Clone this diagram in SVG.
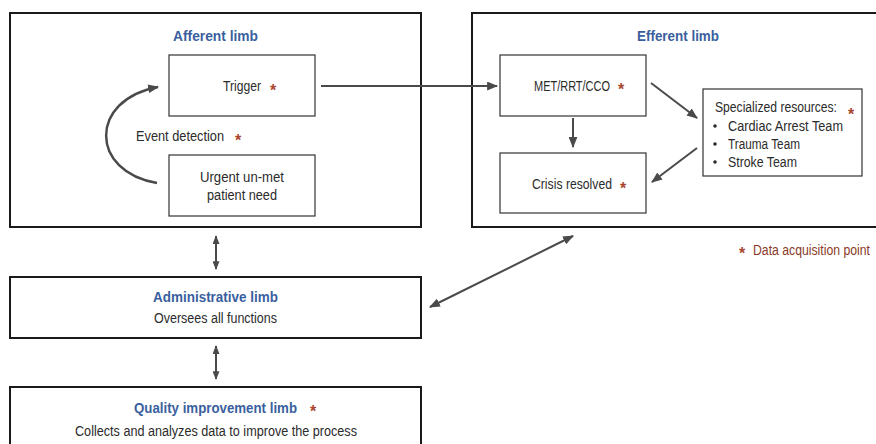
<svg xmlns="http://www.w3.org/2000/svg" width="876" height="444" viewBox="0 0 876 444">
<style>
  .limb { fill: #ffffff; stroke: #1a1a1a; stroke-width: 2; }
  .box { fill: #ffffff; stroke: #333333; stroke-width: 1.2; }
  .title { font-family: "Liberation Sans", Arial, sans-serif; font-weight: bold; font-size: 15px; fill: #3a5f9e; }
  .t { font-family: "Liberation Sans", Arial, sans-serif; font-size: 14px; fill: #2b2b2b; }
  .ast { font-family: "Liberation Sans", Arial, sans-serif; font-weight: bold; font-size: 16px; fill: #a8472e; }
  .conn { fill: none; stroke: #4a4a4a; stroke-width: 2; }
</style>
<defs>
  <marker id="ah" viewBox="0 0 10 8" refX="9" refY="4" markerWidth="11" markerHeight="9" markerUnits="userSpaceOnUse" orient="auto-start-reverse">
    <path d="M0,0 L10,4 L0,8 z" fill="#4a4a4a"/>
  </marker>
  <marker id="ahs" viewBox="0 0 10 8" refX="9" refY="4" markerWidth="9" markerHeight="7" markerUnits="userSpaceOnUse" orient="auto-start-reverse">
    <path d="M0,0 L10,4 L0,8 z" fill="#4a4a4a"/>
  </marker>
</defs>

<g id="afferent">
  <rect class="limb" x="10" y="13" width="411" height="214"/>
  <text class="title" x="173" y="41" textLength="85" lengthAdjust="spacingAndGlyphs">Afferent limb</text>
</g>
<g id="trigger">
  <rect class="box" x="169" y="55" width="146" height="61"/>
  <text class="t" x="223" y="91"><tspan textLength="38" lengthAdjust="spacingAndGlyphs">Trigger</tspan><tspan class="ast" x="270" y="96">*</tspan></text>
</g>
<g id="event-detection">
  <text class="t" x="136" y="141"><tspan textLength="88" lengthAdjust="spacingAndGlyphs">Event detection</tspan><tspan class="ast" x="235" y="146">*</tspan></text>
</g>
<g id="urgent">
  <rect class="box" x="169" y="155" width="146" height="61"/>
  <text class="t" x="200" y="182" textLength="84" lengthAdjust="spacingAndGlyphs">Urgent un-met</text>
  <text class="t" x="207" y="200" textLength="70" lengthAdjust="spacingAndGlyphs">patient need</text>
</g>

<g id="efferent">
  <rect class="limb" x="472" y="13" width="410" height="214"/>
  <text class="title" x="637" y="41" textLength="82" lengthAdjust="spacingAndGlyphs">Efferent limb</text>
</g>
<g id="met">
  <rect class="box" x="500" y="55" width="146" height="61"/>
  <text class="t" x="534" y="91"><tspan textLength="76" lengthAdjust="spacingAndGlyphs">MET/RRT/CCO</tspan><tspan class="ast" x="618" y="95">*</tspan></text>
</g>
<g id="crisis">
  <rect class="box" x="500" y="153" width="146" height="60"/>
  <text class="t" x="532" y="189"><tspan textLength="80" lengthAdjust="spacingAndGlyphs">Crisis resolved</tspan><tspan class="ast" x="620" y="194">*</tspan></text>
</g>
<g id="specialized">
  <rect class="box" x="703" y="89" width="159" height="87"/>
  <text class="t" x="715" y="112"><tspan textLength="122" lengthAdjust="spacingAndGlyphs">Specialized resources:</tspan><tspan class="ast" x="848" y="120">*</tspan></text>
  <circle cx="715" cy="126" r="1.8" fill="#2b2b2b"/>
  <text class="t" x="728" y="131" textLength="115" lengthAdjust="spacingAndGlyphs">Cardiac Arrest Team</text>
  <circle cx="715" cy="144" r="1.8" fill="#2b2b2b"/>
  <text class="t" x="728" y="149" textLength="72" lengthAdjust="spacingAndGlyphs">Trauma Team</text>
  <circle cx="715" cy="162" r="1.8" fill="#2b2b2b"/>
  <text class="t" x="728" y="167" textLength="69" lengthAdjust="spacingAndGlyphs">Stroke Team</text>
</g>

<g id="legend">
  <text class="ast" x="739" y="259">*<tspan class="t" x="753" y="255" textLength="117" lengthAdjust="spacingAndGlyphs" style="fill:#8a3a26;font-weight:normal">Data acquisition point</tspan></text>
</g>

<g id="administrative">
  <rect class="limb" x="10" y="277" width="411" height="61"/>
  <text class="title" x="153" y="302" textLength="125" lengthAdjust="spacingAndGlyphs">Administrative limb</text>
  <text class="t" x="154" y="323" textLength="123" lengthAdjust="spacingAndGlyphs">Oversees all functions</text>
</g>

<g id="quality">
  <rect class="limb" x="10" y="387" width="411" height="70"/>
  <text class="title" x="134" y="413"><tspan textLength="163" lengthAdjust="spacingAndGlyphs">Quality improvement limb</tspan><tspan class="ast" x="310" y="417" style="font-weight:bold">*</tspan></text>
  <text class="t" x="75" y="436" textLength="282" lengthAdjust="spacingAndGlyphs">Collects and analyzes data to improve the process</text>
</g>

<g id="connectors">
  <path class="conn" d="M321,86 L497,86" marker-end="url(#ah)"/>
  <path class="conn" d="M573,118 L573,147" marker-end="url(#ah)"/>
  <path class="conn" d="M651,83 L697,118" marker-end="url(#ah)"/>
  <path class="conn" d="M697,148 L652,182" marker-end="url(#ah)"/>
  <path class="conn" style="stroke-width:2.5" d="M157,183 C90,172 88,100 158,87" marker-end="url(#ah)"/>
  <path class="conn" d="M216,236 L216,269" marker-start="url(#ahs)" marker-end="url(#ahs)"/>
  <path class="conn" d="M216,346 L216,379" marker-start="url(#ahs)" marker-end="url(#ahs)"/>
  <path class="conn" d="M430,307 L573,236" marker-start="url(#ah)" marker-end="url(#ah)"/>
</g>
</svg>
